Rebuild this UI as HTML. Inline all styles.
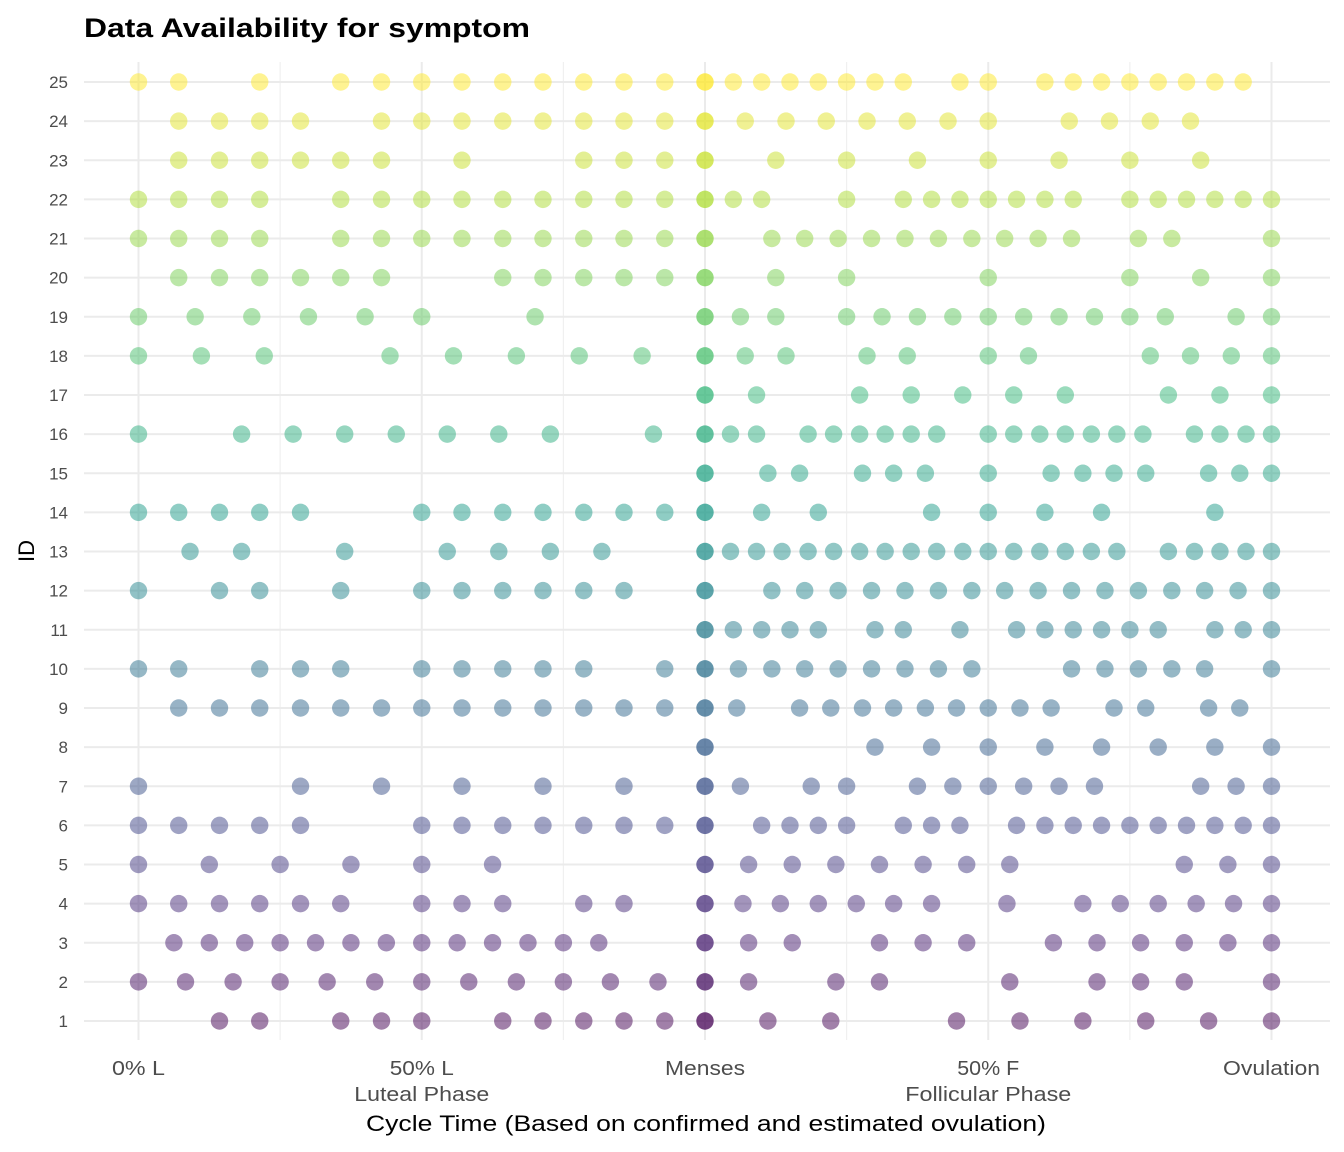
<!DOCTYPE html>
<html><head><meta charset="utf-8"><style>
body{margin:0;background:#fff}
svg{display:block;font-family:"Liberation Sans",Arial,sans-serif}
</style></head><body>
<svg id="chart" width="1344" height="1152" viewBox="0 0 1344 1152">
<text x="84" y="37" font-size="27" font-weight="bold" fill="#000" textLength="446" lengthAdjust="spacingAndGlyphs">Data Availability for symptom</text>
<g id="grid"></g>
<g id="yticks"></g>
<g id="xticks"></g>
<g id="dots"></g>
<text x="34" y="551" font-size="22" fill="#000" text-anchor="middle" transform="rotate(-90 34 551)">ID</text>
<text x="706" y="1131" font-size="22" fill="#000" text-anchor="middle" textLength="680" lengthAdjust="spacingAndGlyphs">Cycle Time (Based on confirmed and estimated ovulation)</text>
</svg>
<script>
const ids = [1,2,3,4,5,6,7,8,9,10,11,12,13,14,15,16,17,18,19,20,21,22,23,24,25];
const xTickValues = [-100,-50,0,50,100];
const xTickLabels = ["0% L","50% L\nLuteal Phase","Menses","50% F\nFollicular Phase","Ovulation"];
const row1 = [-85.7,-78.6,-64.3,-57.1,-50,-35.7,-28.6,-21.4,-14.3,-7.1,0,11.1,22.2,44.4,55.6,66.7,77.8,88.9,100];
const row2 = [-100,-91.7,-83.3,-75,-66.7,-58.3,-50,-41.7,-33.3,-25,-16.7,-8.3,0,7.7,23.1,30.8,53.8,69.2,76.9,84.6,100];
const row3 = [-93.75,-87.5,-81.25,-75,-68.75,-62.5,-56.25,-50,-43.75,-37.5,-31.25,-25,-18.75,0,7.7,15.4,30.8,38.5,46.2,61.5,69.2,76.9,84.6,92.3,100];
const row4 = [-100,-92.9,-85.7,-78.6,-71.4,-64.3,-50,-42.9,-35.7,-21.4,-14.3,0,6.7,13.3,20,26.7,33.3,40,53.3,66.7,73.3,80,86.7,93.3,100];
const row5 = [-100,-87.5,-75,-62.5,-50,-37.5,0,7.7,15.4,23.1,30.8,38.5,46.2,53.8,84.6,92.3,100];
const row6 = [-100,-92.9,-85.7,-78.6,-71.4,-50,-42.9,-35.7,-28.6,-21.4,-14.3,-7.1,0,10,15,20,25,35,40,45,55,60,65,70,75,80,85,90,95,100];
const row7 = [-100,-71.4,-57.1,-42.9,-28.6,-14.3,0,6.25,18.75,25,37.5,43.75,50,56.25,62.5,68.75,87.5,93.75,100];
const row8 = [0,30,40,50,60,70,80,90,100];
const row9 = [-92.9,-85.7,-78.6,-71.4,-64.3,-57.1,-50,-42.9,-35.7,-28.6,-21.4,-14.3,-7.1,0,5.6,16.7,22.2,27.8,33.3,38.9,44.4,50,55.6,61.1,72.2,77.8,88.9,94.4];
const row10 = [-100,-92.9,-78.6,-71.4,-64.3,-50,-42.9,-35.7,-28.6,-21.4,-7.1,0,5.9,11.8,17.6,23.5,29.4,35.3,41.2,47.1,64.7,70.6,76.5,82.4,88.2,100];
const row11 = [0,5,10,15,20,30,35,45,55,60,65,70,75,80,90,95,100];
const row12 = [-100,-85.7,-78.6,-64.3,-50,-42.9,-35.7,-28.6,-21.4,-14.3,0,11.8,17.6,23.5,29.4,35.3,41.2,47.1,52.9,58.8,64.7,70.6,76.5,82.4,88.2,94.1,100];
const row13 = [-90.9,-81.8,-63.6,-45.5,-36.4,-27.3,-18.2,0,4.5,9.1,13.6,18.2,22.7,27.3,31.8,36.4,40.9,45.5,50,54.5,59.1,63.6,68.2,72.7,81.8,86.4,90.9,95.5,100];
const row14 = [-100,-92.9,-85.7,-78.6,-71.4,-50,-42.9,-35.7,-28.6,-21.4,-14.3,-7.1,0,10,20,40,50,60,70,90];
const row15 = [0,11.1,16.7,27.8,33.3,38.9,50,61.1,66.7,72.2,77.8,88.9,94.4,100];
const row16 = [-100,-81.8,-72.7,-63.6,-54.5,-45.5,-36.4,-27.3,-9.1,0,4.5,9.1,18.2,22.7,27.3,31.8,36.4,40.9,50,54.5,59.1,63.6,68.2,72.7,77.3,86.4,90.9,95.5,100];
const row17 = [0,9.1,27.3,36.4,45.5,54.5,63.6,81.8,90.9,100];
const row18 = [-100,-88.9,-77.8,-55.6,-44.4,-33.3,-22.2,-11.1,0,7.1,14.3,28.6,35.7,50,57.1,78.6,85.7,92.9,100];
const row19 = [-100,-90,-80,-70,-60,-50,-30,0,6.25,12.5,25,31.25,37.5,43.75,50,56.25,62.5,68.75,75,81.25,93.75,100];
const row20 = [-92.9,-85.7,-78.6,-71.4,-64.3,-57.1,-35.7,-28.6,-21.4,-14.3,-7.1,0,12.5,25,50,75,87.5,100];
const row21 = [-100,-92.9,-85.7,-78.6,-64.3,-57.1,-50,-42.9,-35.7,-28.6,-21.4,-14.3,-7.1,0,11.8,17.6,23.5,29.4,35.3,41.2,47.1,52.9,58.8,64.7,76.5,82.4,100];
const row22 = [-100,-92.9,-85.7,-78.6,-64.3,-57.1,-50,-42.9,-35.7,-28.6,-21.4,-14.3,-7.1,0,5,10,25,35,40,45,50,55,60,65,75,80,85,90,95,100];
const row23 = [-92.9,-85.7,-78.6,-71.4,-64.3,-57.1,-42.9,-21.4,-14.3,-7.1,0,12.5,25,37.5,50,62.5,75,87.5];
const row24 = [-92.9,-85.7,-78.6,-71.4,-57.1,-50,-42.9,-35.7,-28.6,-21.4,-14.3,-7.1,0,7.1,14.3,21.4,28.6,35.7,42.9,50,64.3,71.4,78.6,85.7];
const row25 = [-100,-92.9,-78.6,-64.3,-57.1,-50,-42.9,-35.7,-28.6,-21.4,-14.3,-7.1,0,5,10,15,20,25,30,35,45,50,60,65,70,75,80,85,90,95];
const rows = [row1,row2,row3,row4,row5,row6,row7,row8,row9,row10,row11,row12,row13,row14,row15,row16,row17,row18,row19,row20,row21,row22,row23,row24,row25];

const NS="http://www.w3.org/2000/svg";
const X0=84,X1=1330,Y0=62,Y1=1040;
const labelWidths={"0% L":53,"50% L":64,"Luteal Phase":135,"Menses":80,"50% F":62,"Follicular Phase":166,"Ovulation":97};
function xScale(v){return 705+v*5.665;}
function yScale(id){return 1021-(id-1)*39.125;}
const vir=[[68,1,84],[72,40,120],[62,74,137],[49,104,142],[38,130,142],[31,158,137],[53,183,121],[110,206,88],[181,222,43],[253,231,37]];
function viridis(t){const p=t*(vir.length-1);const i=Math.min(Math.floor(p),vir.length-2);const f=p-i;
 const c=vir[i].map((a,k)=>Math.round(a+(vir[i+1][k]-a)*f));return `rgb(${c[0]},${c[1]},${c[2]})`;}
function mk(tag,attrs,parent){const e=document.createElementNS(NS,tag);for(const k in attrs)e.setAttribute(k,attrs[k]);parent.appendChild(e);return e;}
const grid=document.getElementById('grid'),yt=document.getElementById('yticks'),xt=document.getElementById('xticks'),dots=document.getElementById('dots');
for(let i=0;i<xTickValues.length-1;i++){const x=xScale((xTickValues[i]+xTickValues[i+1])/2);
 const l=mk('line',{x1:x,x2:x,y1:Y0,y2:Y1,stroke:'#f0f0f0','stroke-width':1.2},grid);
 
 }
xTickValues.forEach((v,i)=>{const x=xScale(v);
 const l=mk('line',{x1:x,x2:x,y1:Y0,y2:Y1,stroke:'#ebebeb','stroke-width':2},grid);
 
 
 const parts=xTickLabels[i].split('\n');
 parts.forEach((p,j)=>{const a={x:x,y:1075+j*26,'font-size':20,fill:'#4d4d4d','text-anchor':'middle'};
  if(labelWidths[p]){a.textLength=labelWidths[p];a.lengthAdjust='spacingAndGlyphs';}
  const t=mk('text',a,xt);t.textContent=p;
  
  });
});
ids.forEach(id=>{const y=yScale(id);
 const l=mk('line',{x1:X0,x2:X1,y1:y,y2:y,stroke:'#ebebeb','stroke-width':2},grid);
 
 
 const t=mk('text',{x:68,y:y+6,'font-size':17,fill:'#4d4d4d','text-anchor':'end'},yt);t.textContent=id;
 
 });
rows.forEach((r,i)=>{const id=ids[i];const col=viridis((id-1)/24);
 r.forEach(v=>{const c=mk('circle',{cx:xScale(v),cy:yScale(id),r:8.7,fill:col,'fill-opacity':v===0?0.75:0.5},dots);
  
  });});
</script>
</body></html>
